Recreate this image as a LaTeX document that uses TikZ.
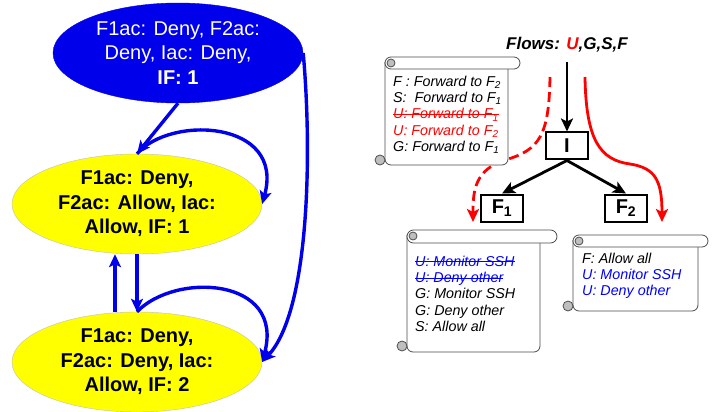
\documentclass[tikz,border=0pt]{standalone}
\usepackage{fontspec}
\setmainfont{Liberation Sans}
\usetikzlibrary{arrows.meta,shapes.geometric}
\definecolor{stblue}{RGB}{0,0,235}
\definecolor{styellow}{RGB}{255,255,0}
\definecolor{flred}{RGB}{255,0,0}
\definecolor{rlblue}{RGB}{0,0,255}
\newsavebox\strkbox
\newcommand\strk[1]{\sbox\strkbox{#1}\rlap{\rule[0.3em]{\wd\strkbox}{0.8pt}}\usebox\strkbox}

\begin{document}
\begin{tikzpicture}[x=1pt,y=-1pt,
    state/.style={ellipse,minimum width=250pt,minimum height=100pt,inner sep=0pt,align=center,font=\fontsize{20}{24.5}\selectfont},
    stedge/.style={draw=stblue,line width=3.4pt,-{Stealth[length=13pt,width=12pt,inset=3pt]}},
    flbox/.style={draw,line width=2pt,minimum width=42pt,minimum height=27pt,inner sep=0pt,font=\fontsize{20}{24}\selectfont\bfseries},
    fledge/.style={line width=2.8pt,-{Stealth[length=13pt,width=12pt,inset=3pt]}},
    redge/.style={draw=flred,line width=2.8pt,-{Stealth[length=13pt,width=12pt,inset=3pt]}},
    rules/.style={anchor=north west,align=left,inner sep=0pt,font=\fontsize{14.3}{16.2}\selectfont\itshape},
    scrollline/.style={draw=black!70,line width=0.8pt,fill=white},
    curl/.style={draw=black!70,line width=0.8pt,fill=black!25}]
    \useasboundingbox (0,0) rectangle (724,412);

    % states
    \node[state,fill=stblue,draw=stblue,text=white] (stA) at (178,53)
        {F1ac: Deny, F2ac:\\Deny, Iac: Deny,\\\textbf{IF: 1}};
    \node[state,fill=styellow,draw=black!25,font=\fontsize{20}{24.5}\selectfont\bfseries] (stB) at (137,204)
        {F1ac: Deny,\\F2ac: Allow, Iac:\\Allow, IF: 1};
    \node[state,fill=styellow,draw=black!25,font=\fontsize{20}{24.5}\selectfont\bfseries] (stC) at (137,362)
        {F1ac: Deny,\\F2ac: Deny, Iac:\\Allow, IF: 2};

    \draw[stedge] (stA.south) -- (stB.north);
    \draw[stedge] (stB.north) .. controls (170,115) and (285,120) .. (stB.east);
    \draw[stedge] (stB.south) -- (stC.north);
    \draw[stedge] ([xshift=-22pt]stC.north) -- ([xshift=-22pt]stB.south);
    \draw[stedge] (stC.north) .. controls (175,272) and (285,277) .. (stC.east);
    \draw[stedge] (stA.east) .. controls (312,150) and (310,310) .. (stC.east);

    % flows and filters
    \node[font=\fontsize{17}{20}\selectfont\bfseries\itshape] (flows) at (567,45)
        {Flows: \textcolor{flred}{U},G,S,F};
    \node[flbox] (boxI) at (567,146) {I};
    \node[flbox] (boxF1) at (502,208) {F\textsubscript{1}};
    \node[flbox] (boxF2) at (626,208) {F\textsubscript{2}};

    \draw[fledge] ([yshift=-6pt]flows.south) -- (boxI.north);
    \draw[fledge] (boxI.south) -- (boxF1.north);
    \draw[fledge] (boxI.south) -- (boxF2.north);

    \coordinate (uold) at (550,77);
    \coordinate (uoldend) at (473,222);
    \coordinate (unew) at (585,77);
    \coordinate (unewend) at (662,222);
    \draw[redge,dash pattern=on 10pt off 5pt] (uold) .. controls (549,135) and (540,150) .. (505,160)
        .. controls (475,170) and (473,190) .. (uoldend);
    \draw[redge] (unew) .. controls (586,140) and (600,160) .. (630,164)
        .. controls (655,168) and (662,180) .. (unewend);

    % scroll at I
    \draw[scrollline,rounded corners=6pt] (385,62) -- (385,165) -- (508,165) -- (508,62);
    \draw[scrollline,rounded corners=6pt] (385,57) rectangle (520,69);
    \draw[curl] (391,63) circle (4);
    \draw[curl] (380,160) circle (5);
    \node[rules] (rulesI) at (393,76)
        {F : Forward to F\textsubscript{2}\\
         S: \ Forward to F\textsubscript{1}\\
         \textcolor{flred}{\strk{U: Forward to F\textsubscript{1}}}\\
         \textcolor{flred}{U: Forward to F\textsubscript{2}}\\
         G: Forward to F\textsubscript{1}};

    % scroll at F1
    \draw[scrollline,rounded corners=6pt] (407,235) -- (407,352) -- (540,352) -- (540,235);
    \draw[scrollline,rounded corners=6.5pt] (407,230) rectangle (557,243);
    \draw[curl] (413,236) circle (4);
    \draw[curl] (402,346) circle (5);
    \node[rules] (rulesF1) at (415,256)
        {\textcolor{rlblue}{\strk{U: Monitor SSH}}\\
         \textcolor{rlblue}{\strk{U: Deny other}}\\
         G: Monitor SSH\\
         G: Deny other\\
         S: Allow all};

    % scroll at F2
    \draw[scrollline,rounded corners=6pt] (573,240) -- (573,311) -- (698,311) -- (698,240);
    \draw[scrollline,rounded corners=6pt] (573,235) rectangle (708,247);
    \draw[curl] (579,241) circle (4);
    \draw[curl] (568,306) circle (5);
    \node[rules] (rulesF2) at (582,253)
        {F: Allow all\\
         \textcolor{rlblue}{U: Monitor SSH}\\
         \textcolor{rlblue}{U: Deny other}};
\end{tikzpicture}
\end{document}
